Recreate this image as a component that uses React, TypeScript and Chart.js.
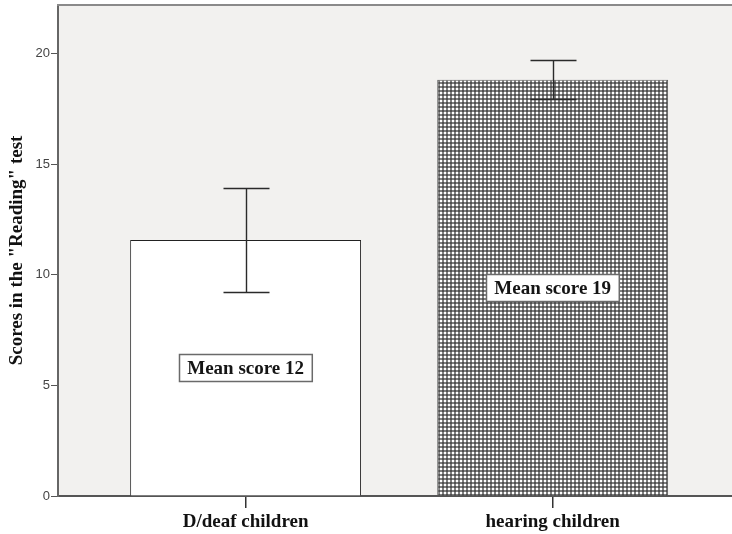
import React, { useEffect, useRef } from 'react';
import { Chart, registerables } from 'chart.js';

Chart.register(...registerables);

const categories = ['D/deaf children', 'hearing children'];
const means = [11.58, 18.82];
const errLow = [9.24, 17.96];
const errHigh = [13.92, 19.7];
const barLabels = ['Mean score 12', 'Mean score 19'];
const yTicks = [0, 5, 10, 15, 20];
const yTitle = 'Scores in the "Reading" test';

function makePattern(): CanvasPattern | string {
  const c = document.createElement('canvas');
  c.width = 4;
  c.height = 4;
  const g = c.getContext('2d');
  if (!g) return '#777';
  g.fillStyle = '#ffffff';
  g.fillRect(0, 0, 4, 4);
  g.fillStyle = 'rgba(50,50,50,0.62)';
  g.fillRect(0, 2, 4, 2);
  g.fillRect(2, 0, 2, 4);
  const p = g.createPattern(c, 'repeat');
  return p || '#777';
}

const plotDecor = {
  id: 'plotDecor',
  beforeDraw(chart: any) {
    const { ctx, chartArea } = chart;
    ctx.save();
    ctx.fillStyle = '#f2f1ef';
    ctx.fillRect(chartArea.left, chartArea.top, chartArea.right - chartArea.left, chartArea.bottom - chartArea.top);
    ctx.restore();
  },
  afterDraw(chart: any) {
    const { ctx, chartArea } = chart;
    ctx.save();
    ctx.strokeStyle = '#8a8a8a';
    ctx.lineWidth = 2;
    ctx.beginPath();
    ctx.moveTo(chartArea.left - 1, chartArea.top);
    ctx.lineTo(chartArea.right, chartArea.top);
    ctx.stroke();
    ctx.restore();
  },
};

const errorAndLabels = {
  id: 'errorAndLabels',
  afterDatasetsDraw(chart: any) {
    const { ctx } = chart;
    const xs = chart.scales.x;
    const ys = chart.scales.y;
    ctx.save();
    for (let i = 0; i < categories.length; i++) {
      const x = Math.round(xs.getPixelForValue(i)) + 0.5;
      const yHi = Math.round(ys.getPixelForValue(errHigh[i])) + 0.5;
      const yLo = Math.round(ys.getPixelForValue(errLow[i])) + 0.5;
      const cap = 23;
      ctx.strokeStyle = '#2a2a2a';
      ctx.lineWidth = 1.4;
      ctx.beginPath();
      ctx.moveTo(x, yHi);
      ctx.lineTo(x, yLo);
      ctx.moveTo(x - cap, yHi);
      ctx.lineTo(x + cap, yHi);
      ctx.moveTo(x - cap, yLo);
      ctx.lineTo(x + cap, yLo);
      ctx.stroke();
    }
    ctx.font = 'bold 19px "Liberation Serif", "DejaVu Serif", serif';
    ctx.textAlign = 'center';
    ctx.textBaseline = 'middle';
    for (let i = 0; i < categories.length; i++) {
      const x = xs.getPixelForValue(i);
      const y = ys.getPixelForValue(means[i] / 2);
      const w = ctx.measureText(barLabels[i]).width + 16;
      const h = 27;
      const bx = Math.round(x - w / 2) + 0.5;
      const by = Math.round(y - h / 2) + 0.5;
      ctx.fillStyle = '#ffffff';
      ctx.fillRect(bx, by, w, h);
      ctx.strokeStyle = '#6a6a6a';
      ctx.lineWidth = 1.5;
      ctx.strokeRect(bx, by, w, h);
      ctx.fillStyle = '#151515';
      ctx.fillText(barLabels[i], x, y + 1);
    }
    ctx.restore();
  },
};

export default function App() {
  const ref = useRef<HTMLCanvasElement | null>(null);

  useEffect(() => {
    if (!ref.current) return;
    const pattern = makePattern();
    const chart = new Chart(ref.current, {
      type: 'bar',
      data: {
        datasets: [
          {
            data: categories.map((_, i) => ({ x: i, y: means[i] })) as any,
            backgroundColor: ['#ffffff', pattern] as any,
            borderColor: ['#222222', '#5a5a5a'],
            borderWidth: 1,
            borderSkipped: 'bottom',
            categoryPercentage: 1,
            barPercentage: 0.752,
          },
        ],
      },
      options: {
        responsive: false,
        animation: false,
        devicePixelRatio: 1,
        layout: { padding: { top: 5, left: 0, right: 0, bottom: 0 } },
        plugins: {
          legend: { display: false },
          tooltip: { enabled: false },
        },
        scales: {
          x: {
            type: 'linear',
            min: -0.611,
            max: 1.584,
            offset: false,
            afterBuildTicks: (s: any) => {
              s.ticks = categories.map((_, i) => ({ value: i }));
            },
            afterFit: (s: any) => {
              s.height = 38;
              s.paddingLeft = 0;
              s.paddingRight = 0;
            },
            border: { display: true, color: '#555555', width: 2 },
            grid: {
              display: true,
              drawOnChartArea: false,
              drawTicks: true,
              tickLength: 12,
              color: '#333333',
              lineWidth: 1.5,
              offset: false,
            },
            ticks: {
              autoSkip: false,
              maxRotation: 0,
              padding: 3,
              color: '#111111',
              font: { family: '"Liberation Serif", "DejaVu Serif", serif', size: 19, weight: 'bold' },
              callback: (v: any) => categories[v as number] ?? '',
            },
          },
          y: {
            min: 0,
            max: 22.2,
            afterBuildTicks: (s: any) => {
              s.ticks = yTicks.map((v) => ({ value: v }));
            },
            afterFit: (s: any) => {
              s.width = 58;
              s.paddingTop = 0;
              s.paddingBottom = 0;
            },
            border: { display: true, color: '#666666', width: 2 },
            grid: {
              display: true,
              drawOnChartArea: false,
              drawTicks: true,
              tickLength: 7,
              color: '#555555',
              lineWidth: 1,
            },
            ticks: {
              padding: 1,
              color: '#444444',
              font: { family: '"Liberation Sans", Arial, sans-serif', size: 13 },
              includeBounds: false,
            },
            title: {
              display: true,
              text: yTitle,
              color: '#111111',
              font: { family: '"Liberation Serif", "DejaVu Serif", serif', size: 19, weight: 'bold' },
              padding: { top: 6, bottom: 0 },
            },
          },
        },
      },
      plugins: [plotDecor, errorAndLabels],
    } as any);
    return () => chart.destroy();
  }, []);

  return (
    <div style={{ position: 'fixed', left: 0, top: 0, width: 732, height: 534, background: '#ffffff' }}>
      <canvas ref={ref} width={732} height={534} style={{ display: 'block' }} />
    </div>
  );
}
